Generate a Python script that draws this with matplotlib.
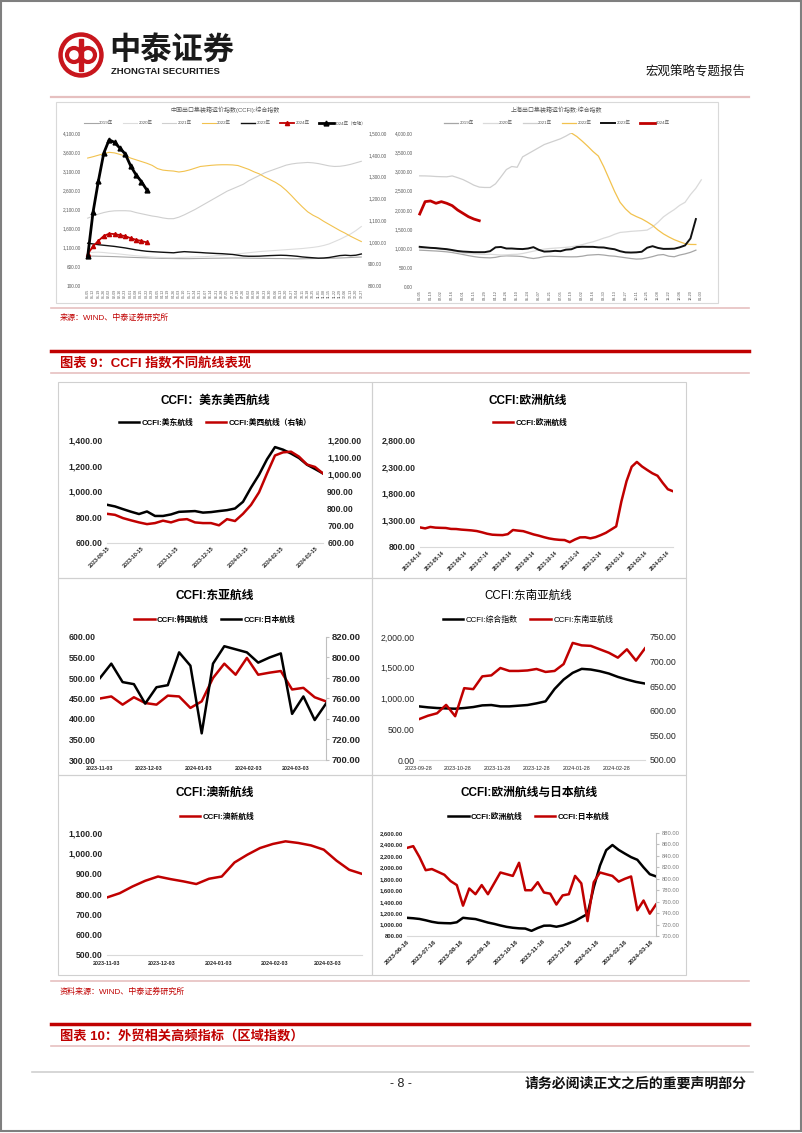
import numpy as np
import pandas as pd
import matplotlib
matplotlib.use("Agg")
import matplotlib.pyplot as plt
from matplotlib.lines import Line2D
from matplotlib.patches import Circle, Rectangle

plt.rcParams['font.family'] = ['Liberation Sans', 'Noto Sans CJK SC', 'DejaVu Sans']
plt.rcParams['axes.unicode_minus'] = False

W, H = 802, 1133
RED = '#C00000'
PINK = '#E6C0C0'
TXT = '#262626'
GREY_TXT = '#595959'

# ---------------- top left: CCFI composite, by year (weekly) ----------------
CCFI_2019 = [885, 882, 878, 875, 872, 868, 862, 856, 850, 845, 840, 835, 830, 826, 822, 820, 818, 816,
             815, 815, 818, 820, 822, 825, 826, 828, 830, 832, 832, 830, 828, 826, 824, 822, 820, 818,
             818, 815, 812, 810, 812, 815, 818, 820, 822, 825, 828, 832, 838, 845, 852, 858]
CCFI_2020 = [975, 980, 985, 975, 960, 950, 935, 920, 905, 890, 880, 870, 860, 850, 845, 840, 840, 845,
             850, 855, 860, 865, 870, 880, 890, 900, 910, 925, 940, 955, 970, 985, 1000, 1010, 1020, 1030,
             1040, 1050, 1060, 1070, 1080, 1095, 1110, 1130, 1160, 1200, 1260, 1320, 1390, 1460, 1550, 1655]
CCFI_2021 = [1873, 1930, 1980, 2020, 2050, 2065, 2068, 2068, 2060, 2020, 1990, 1960, 1930, 1910, 1880, 1860,
             1860, 1900, 1960, 2030, 2100, 2180, 2260, 2340, 2420, 2500, 2580, 2640, 2700, 2760, 2850, 2920,
             2990, 3060, 3110, 3160, 3210, 3260, 3290, 3310, 3320, 3330, 3320, 3300, 3270, 3240, 3225, 3230,
             3250, 3280, 3320, 3360]
CCFI_2022 = [3445, 3480, 3520, 3560, 3595, 3580, 3540, 3500, 3445, 3400, 3355, 3310, 3255, 3170, 3130, 3115,
             3105, 3080, 3100, 3135, 3180, 3225, 3240, 3255, 3265, 3270, 3270, 3265, 3250, 3200, 3150, 3085,
             3030, 2950, 2880, 2810, 2720, 2600, 2460, 2310, 2170, 2040, 1950, 1880, 1790, 1710, 1630, 1550,
             1480, 1400, 1330, 1262]
CCFI_2023 = [1218, 1200, 1180, 1165, 1150, 1135, 1115, 1095, 1070, 1045, 1025, 1008, 998, 990, 982, 975,
             968, 985, 998, 990, 982, 975, 965, 958, 950, 945, 935, 925, 905, 885, 878, 878, 880, 888, 895,
             900, 904, 900, 890, 878, 860, 848, 838, 828, 832, 845, 870, 895, 905, 895, 905, 937]
CCFI_2024 = [935, 1138, 1281, 1408, 1469, 1457, 1431, 1404, 1350, 1309, 1278, 1240]
CCFI_WEEKS = [d.strftime('%m-%d') for d in pd.date_range('2024-01-05', periods=52, freq='7D')]

# ---------------- top right: SCFI composite, by year (weekly) ----------------
SCFI_2019 = [957, 950, 942, 935, 925, 913, 895, 870, 843, 815, 790, 770, 762, 757, 770, 800, 809, 805,
             800, 790, 760, 740, 760, 790, 800, 795, 790, 785, 783, 785, 800, 826, 835, 843, 830, 810,
             800, 780, 760, 740, 725, 730, 757, 790, 830, 843, 800, 785, 830, 860, 900, 957]
SCFI_2020 = [1000, 1010, 1020, 995, 975, 960, 935, 900, 880, 870, 860, 850, 845, 850, 840, 830, 835, 845,
             850, 870, 900, 930, 960, 985, 1000, 1010, 1020, 1030, 1045, 1070, 1100, 1140, 1174, 1220,
             1270, 1310, 1370, 1417, 1430, 1445, 1455, 1465, 1478, 1560, 1680, 1820, 1920, 2010, 2120,
             2200, 2400, 2565, 2783]
SCFI_2021 = [2887, 2885, 2880, 2870, 2865, 2862, 2885, 2840, 2790, 2720, 2645, 2595, 2585, 2585, 2680,
             2860, 3050, 3130, 3110, 3380, 3460, 3540, 3620, 3700, 3750, 3800, 3850, 3920, 4000]
SCFI_2022_START = 28  # earlier weeks are above the 4,000 axis top
SCFI_2022 = [4000, 3910, 3790, 3660, 3520, 3400, 3120, 2800, 2480, 2200, 2030, 1900, 1830, 1770, 1690,
             1600, 1480, 1380, 1300, 1230, 1175, 1125, 1105, 1104]
SCFI_2023 = [1043, 1030, 1017, 1010, 995, 983, 960, 935, 920, 913, 905, 904, 905, 930, 1030, 1040, 1000,
             1000, 990, 985, 1000, 1035, 965, 920, 925, 939, 930, 970, 980, 1035, 1045, 1043, 1043, 1030,
             1026, 1000, 980, 930, 900, 895, 900, 915, 1020, 1060, 1015, 990, 991, 995, 1030, 1080, 1261,
             1765]
SCFI_2024 = [1896, 2217, 2235, 2174, 2217, 2174, 2113, 2000, 1913, 1826, 1765, 1722]
SCFI_WEEKS = [d.strftime('%m-%d') for d in pd.date_range('2024-01-05', periods=53, freq='7D')]

# ---------------- panels (weekly CCFI routes) ----------------
US_START = '2023-09-15'
US_EAST = [897, 884, 863, 843, 825, 845, 810, 810, 822, 842, 845, 848, 836, 840, 848, 855, 868, 920, 1030,
           1130, 1250, 1345, 1325, 1295, 1260, 1208, 1175, 1140]
US_WEST = [770, 764, 745, 732, 720, 710, 716, 730, 720, 735, 739, 720, 716, 716, 703, 739, 728, 770, 822,
           895, 1005, 1110, 1128, 1132, 1103, 1057, 1043, 1005]
US_TICKS = ['2023-09-15', '2023-10-15', '2023-11-15', '2023-12-15', '2024-01-15', '2024-02-15', '2024-03-15']

EU_START = '2023-04-14'
EUROPE = [1166, 1148, 1175, 1162, 1158, 1155, 1138, 1136, 1125, 1118, 1110, 1098, 1075, 1048, 1030, 1025,
          1022, 1040, 1118, 1106, 1096, 1066, 1035, 1012, 984, 960, 944, 934, 930, 890, 940, 980, 982,
          962, 984, 1022, 1065, 1125, 1185, 1650, 2030, 2300, 2390, 2305, 2240, 2178, 2132, 2000, 1880, 1842]
EU_TICKS = ['2023-04-14', '2023-05-14', '2023-06-14', '2023-07-14', '2023-08-14', '2023-09-14',
            '2023-10-14', '2023-11-14', '2023-12-14', '2024-01-14', '2024-02-14', '2024-03-14']

EA_START = '2023-11-03'
KOREA = [450, 455, 435, 453, 439, 435, 457, 455, 427, 443, 500, 535, 508, 549, 508, 513, 517, 472, 476, 453, 443]
JAPAN = [780, 794, 776, 774, 755, 771, 773, 805, 792, 726, 794, 811, 808, 805, 795, 800, 804, 745, 762, 739, 755]
EA_TICKS = ['2023-11-03', '2023-12-03', '2024-01-03', '2024-02-03', '2024-03-03']

SEA_START = '2023-09-28'
COMPOSITE = [872, 856, 845, 839, 834, 845, 861, 888, 894, 872, 872, 883, 894, 921, 954, 1155, 1308, 1417,
             1482, 1471, 1444, 1406, 1351, 1308, 1270, 1243]
SE_ASIA = [583, 590, 595, 612, 589, 646, 644, 670, 672, 687, 681, 681, 682, 685, 679, 681, 695, 738, 733,
           732, 725, 718, 708, 725, 702, 727]
SEA_TICKS = ['2023-09-28', '2023-10-28', '2023-11-28', '2023-12-28', '2024-01-28', '2024-02-28']

ANZ = [783, 804, 837, 865, 886, 873, 862, 849, 875, 886, 955, 993, 1026, 1046, 1059, 1051, 1039, 1018,
       964, 919, 899]

EJ_START = '2023-06-16'
EJ_EU_OFFSET = 9  # 2023-06-16 inside EUROPE
JAPAN_EARLY = [854, 857, 838, 815, 817, 812, 807, 796, 789, 753, 783, 773, 789, 773, 792, 811, 808, 805, 828, 780]
EJ_TICKS = ['2023-06-16', '2023-07-16', '2023-08-16', '2023-09-16', '2023-10-16', '2023-11-16',
            '2023-12-16', '2024-01-16', '2024-02-16', '2024-03-16']


def px_axes(x0, y0, x1, y1):
    ax = fig.add_axes([x0 / W, 1 - y1 / H, (x1 - x0) / W, (y1 - y0) / H])
    ax.patch.set_visible(False)
    for s in ax.spines.values():
        s.set_visible(False)
    return ax


def fmt(vals):
    return [f'{v:,.2f}' for v in vals]


def weekly(start, n):
    return pd.date_range(start, periods=n, freq='7D')


def set_y(ax, lo, hi, step, fs, weight='bold', color=TXT):
    vals = np.arange(lo, hi + step / 2, step)
    ax.set_ylim(lo, hi)
    ax.set_yticks(vals, fmt(vals), fontsize=fs, fontweight=weight, color=color)
    ax.tick_params(axis='y', length=0, pad=3)


def set_dates(ax, ticks, fs, rot, weight='bold', pad=2):
    t = pd.to_datetime(ticks)
    ax.set_xticks(t, ticks, fontsize=fs, fontweight=weight, color=TXT, rotation=rot,
                  ha='right' if rot else 'center', rotation_mode='anchor' if rot else 'default')
    ax.tick_params(axis='x', length=0, pad=pad)
    ax.spines['bottom'].set_visible(True)
    ax.spines['bottom'].set_color('#D9D9D9')
    ax.spines['bottom'].set_linewidth(0.8)


def legend(handles, cx, cy, fs=5.6, weight='bold'):
    fig.legend(handles, [h.get_label() for h in handles], loc='center', bbox_to_anchor=(cx / W, 1 - cy / H),
               ncol=len(handles), frameon=False, prop={'size': fs, 'weight': weight},
               handlelength=2.6, handletextpad=0.3, columnspacing=1.6)


fig = plt.figure(figsize=(W / 100, H / 100), dpi=100)
ov = fig.add_axes([0, 0, 1, 1])
ov.set_xlim(0, W)
ov.set_ylim(H, 0)
ov.axis('off')

# page frame and header
ov.add_patch(Rectangle((1, 1), W - 2.5, H - 3, fill=False, ec='#7F7F7F', lw=1.5))
ov.add_patch(Circle((81, 55), 22, color='#C8161D'))
ov.add_patch(Circle((81, 55), 17.5, color='white'))
ov.add_patch(Circle((74, 55), 7, fill=False, ec='#C8161D', lw=3))
ov.add_patch(Circle((88, 55), 7, fill=False, ec='#C8161D', lw=3))
ov.add_patch(Rectangle((79.3, 39), 3.4, 32, color='#C8161D'))
ov.text(109, 51, '中泰证券', fontsize=22.5, fontweight='bold', color='#1A1A1A', va='center', ha='left')
ov.text(111, 71.5, 'ZHONGTAI SECURITIES', fontsize=6.8, fontweight='bold', color='#1A1A1A', va='center')
ov.text(746, 71, '宏观策略专题报告', fontsize=9, color='#111111', va='center', ha='right')
ov.plot([51, 749], [97, 97], color=PINK, lw=1.6)

# top pictures frame
ov.add_patch(Rectangle((56, 102), 662, 201, fill=False, ec='#D9D9D9', lw=0.8))
ov.plot([51, 749], [308, 308], color=PINK, lw=1.2)
ov.text(60, 318, '来源：WIND、中泰证券研究所', fontsize=5.8, color=RED, va='center')
ov.plot([51, 749], [351, 351], color=RED, lw=2.5)
ov.text(60, 363, '图表 9：CCFI 指数不同航线表现', fontsize=9.5, fontweight='bold', color=RED, va='center')
ov.plot([51, 749], [373, 373], color=PINK, lw=1.2)

for x0, x1 in [(58, 372), (372, 686)]:
    for y0, y1 in [(382, 578), (578, 775), (775, 975)]:
        ov.add_patch(Rectangle((x0, y0), x1 - x0, y1 - y0, fill=False, ec='#D0D0D0', lw=0.8))

ov.plot([51, 749], [981, 981], color=PINK, lw=1.2)
ov.text(60, 992, '资料来源：WIND、中泰证券研究所', fontsize=5.8, color=RED, va='center')
ov.plot([51, 749], [1024, 1024], color=RED, lw=2.5)
ov.text(60, 1036, '图表 10：外贸相关高频指标（区域指数）', fontsize=9.5, fontweight='bold', color=RED, va='center')
ov.plot([51, 749], [1046, 1046], color=PINK, lw=1.2)
ov.plot([32, 753], [1072, 1072], color='#D0D0D0', lw=1.2)
ov.text(401, 1084, '- 8 -', fontsize=9, color='#222222', va='center', ha='center')
ov.text(747, 1084, '请务必阅读正文之后的重要声明部分', fontsize=10, fontweight='bold', color='#111111',
        va='center', ha='right')

# ---------------- top left chart ----------------
ax = px_axes(85, 133, 364, 286)
ax2 = ax.twinx()
for s in ax2.spines.values():
    s.set_visible(False)
ln = []
ln += ax.plot(range(len(CCFI_2019)), CCFI_2019, color='#A6A6A6', lw=0.8, label='2019年')
ln += ax.plot(range(len(CCFI_2020)), CCFI_2020, color='#DDDDDD', lw=0.8, label='2020年')
ln += ax.plot(range(len(CCFI_2021)), CCFI_2021, color='#CFCFCF', lw=0.8, label='2021年')
ln += ax.plot(range(len(CCFI_2022)), CCFI_2022, color='#F2C24E', lw=0.8, label='2022年')
ln += ax.plot(range(len(CCFI_2023)), CCFI_2023, color='#111111', lw=1.0, label='2023年')
ln += ax.plot(range(len(CCFI_2024)), CCFI_2024, color=RED, lw=1.3, marker='^', ms=3, label='2024年')
ln += ax2.plot(range(len(CCFI_2024)), CCFI_2024, color='black', lw=2, marker='^', ms=3.5, label='2024年（右轴）')
ax.set_xlim(-0.5, 51.5)
set_y(ax, 100, 4100, 500, 3.4, 'normal', GREY_TXT)
set_y(ax2, 800, 1500, 100, 3.4, 'normal', GREY_TXT)
ax.set_xticks(range(52), CCFI_WEEKS, fontsize=2.6, rotation=90, color=GREY_TXT)
ax.tick_params(axis='x', length=0, pad=2)
fig.text(225 / W, 1 - 110 / H, '中国出口集装箱运价指数(CCFI):综合指数', fontsize=4.3, color=GREY_TXT,
         ha='center', va='center')
fig.legend(ln, [l.get_label() for l in ln], loc='center', bbox_to_anchor=(225 / W, 1 - 123 / H), ncol=7,
           frameon=False, fontsize=3.2, handlelength=3.2, columnspacing=2.2, handletextpad=0.3,
           labelcolor=GREY_TXT)

# ---------------- top right chart ----------------
ax = px_axes(417, 133, 704, 287)
ln = []
ln += ax.plot(range(len(SCFI_2019)), SCFI_2019, color='#A6A6A6', lw=0.9, label='2019年')
ln += ax.plot(range(len(SCFI_2020)), SCFI_2020, color='#DADADA', lw=0.9, label='2020年')
ln += ax.plot(range(len(SCFI_2021)), SCFI_2021, color='#CFCFCF', lw=0.9, label='2021年')
ln += ax.plot(range(SCFI_2022_START, SCFI_2022_START + len(SCFI_2022)), SCFI_2022, color='#F2C24E',
              lw=0.9, label='2022年')
ln += ax.plot(range(len(SCFI_2023)), SCFI_2023, color='#111111', lw=1.4, label='2023年')
ln += ax.plot(range(len(SCFI_2024)), SCFI_2024, color=RED, lw=2, label='2024年')
ax.set_xlim(-0.5, 52.5)
set_y(ax, 0, 4000, 500, 3.4, 'normal', GREY_TXT)
ax.set_xticks(range(0, 53, 2), SCFI_WEEKS[::2], fontsize=2.8, rotation=90, color=GREY_TXT)
ax.tick_params(axis='x', length=0, pad=2)
fig.text(557 / W, 1 - 110 / H, '上海出口集装箱运价指数:综合指数', fontsize=4.3, color=GREY_TXT,
         ha='center', va='center')
fig.legend(ln, [l.get_label() for l in ln], loc='center', bbox_to_anchor=(557 / W, 1 - 123 / H), ncol=6,
           frameon=False, fontsize=3.2, handlelength=3.2, columnspacing=2.2, handletextpad=0.3,
           labelcolor=GREY_TXT)

# ---------------- panel 1: US east / west ----------------
ax = px_axes(107, 440, 323, 543)
ax2 = ax.twinx()
for s in ax2.spines.values():
    s.set_visible(False)
d = weekly(US_START, len(US_EAST))
h1, = ax.plot(d, US_EAST, color='black', lw=1.8, label='CCFI:美东航线')
h2, = ax2.plot(d, US_WEST, color=RED, lw=1.8, label='CCFI:美西航线（右轴）')
ax.set_xlim(d[0], d[-1])
set_y(ax, 600, 1400, 200, 6.2)
set_y(ax2, 600, 1200, 100, 6.2)
set_dates(ax, US_TICKS, 3.9, 45)
fig.text(215 / W, 1 - 401 / H, 'CCFI：美东美西航线', fontsize=8.5, fontweight='bold', ha='center', va='center')
legend([h1, h2], 215, 423)

# ---------------- panel 2: Europe ----------------
ax = px_axes(420, 440, 673, 547)
d = weekly(EU_START, len(EUROPE))
h1, = ax.plot(d, EUROPE, color=RED, lw=1.8, label='CCFI:欧洲航线')
ax.set_xlim(d[0], d[-1])
set_y(ax, 800, 2800, 500, 6.2)
set_dates(ax, EU_TICKS, 3.6, 45)
fig.text(528 / W, 1 - 401 / H, 'CCFI:欧洲航线', fontsize=8.5, fontweight='bold', ha='center', va='center')
legend([h1], 530, 423)

# ---------------- panel 3: East Asia ----------------
ax = px_axes(100, 637, 326, 760)
ax2 = ax.twinx()
for s in ax2.spines.values():
    s.set_visible(False)
d = weekly(EA_START, len(KOREA))
h1, = ax.plot(d, KOREA, color=RED, lw=1.8, label='CCFI:韩国航线')
h2, = ax2.plot(d, JAPAN, color='black', lw=1.8, label='CCFI:日本航线')
ax.set_xlim(d[0], d[-1])
set_y(ax, 300, 600, 50, 6.3)
set_y(ax2, 700, 820, 20, 6.8)
ax2.spines['right'].set_visible(True)
ax2.spines['right'].set_color('#BFBFBF')
ax2.tick_params(axis='y', length=2, color='#BFBFBF', pad=2)
set_dates(ax, EA_TICKS, 3.9, 0, pad=4.5)
fig.text(215 / W, 1 - 596 / H, 'CCFI:东亚航线', fontsize=8.5, fontweight='bold', ha='center', va='center')
legend([h1, h2], 215, 620)

# ---------------- panel 4: Southeast Asia ----------------
ax = px_axes(419, 637, 645, 760)
ax2 = ax.twinx()
for s in ax2.spines.values():
    s.set_visible(False)
d = weekly(SEA_START, len(COMPOSITE))
h1, = ax.plot(d, COMPOSITE, color='black', lw=1.8, label='CCFI:综合指数')
h2, = ax2.plot(d, SE_ASIA, color=RED, lw=1.8, label='CCFI:东南亚航线')
ax.set_xlim(d[0], d[-1])
set_y(ax, 0, 2000, 500, 6.3, 'normal')
set_y(ax2, 500, 750, 50, 6.3, 'normal')
set_dates(ax, SEA_TICKS, 3.9, 0, 'normal', pad=4.5)
fig.text(528 / W, 1 - 596 / H, 'CCFI:东南亚航线', fontsize=8.3, ha='center', va='center')
legend([h1, h2], 528, 620, 5.7, 'normal')

# ---------------- panel 5: Australia / NZ ----------------
ax = px_axes(107, 833, 362, 955)
d = weekly(EA_START, len(ANZ))
h1, = ax.plot(d, ANZ, color=RED, lw=1.8, label='CCFI:澳新航线')
ax.set_xlim(d[0], d[-1])
set_y(ax, 500, 1100, 100, 6.2)
set_dates(ax, EA_TICKS, 3.9, 0, pad=4.5)
fig.text(215 / W, 1 - 793 / H, 'CCFI:澳新航线', fontsize=8.5, fontweight='bold', ha='center', va='center')
legend([h1], 217, 817)

# ---------------- panel 6: Europe vs Japan ----------------
ax = px_axes(407, 833, 656, 936)
ax2 = ax.twinx()
for s in ax2.spines.values():
    s.set_visible(False)
eu = EUROPE[EJ_EU_OFFSET:]
jp = JAPAN_EARLY + JAPAN
d = weekly(EJ_START, len(eu))
h1, = ax.plot(d, eu, color='black', lw=1.8, label='CCFI:欧洲航线')
h2, = ax2.plot(d, jp, color=RED, lw=1.8, label='CCFI:日本航线')
ax.set_xlim(d[0], d[-1])
set_y(ax, 800, 2600, 200, 4.2)
set_y(ax2, 700, 880, 20, 4.2, 'normal', '#7F7F7F')
ax2.spines['right'].set_visible(True)
ax2.spines['right'].set_color('#BFBFBF')
ax2.tick_params(axis='y', length=2, color='#BFBFBF', pad=2)
set_dates(ax, EJ_TICKS, 4.6, 45)
fig.text(529 / W, 1 - 793 / H, 'CCFI:欧洲航线与日本航线', fontsize=8.5, fontweight='bold', ha='center', va='center')
legend([h1, h2], 529, 817)

fig.savefig('out.png', dpi=100)
